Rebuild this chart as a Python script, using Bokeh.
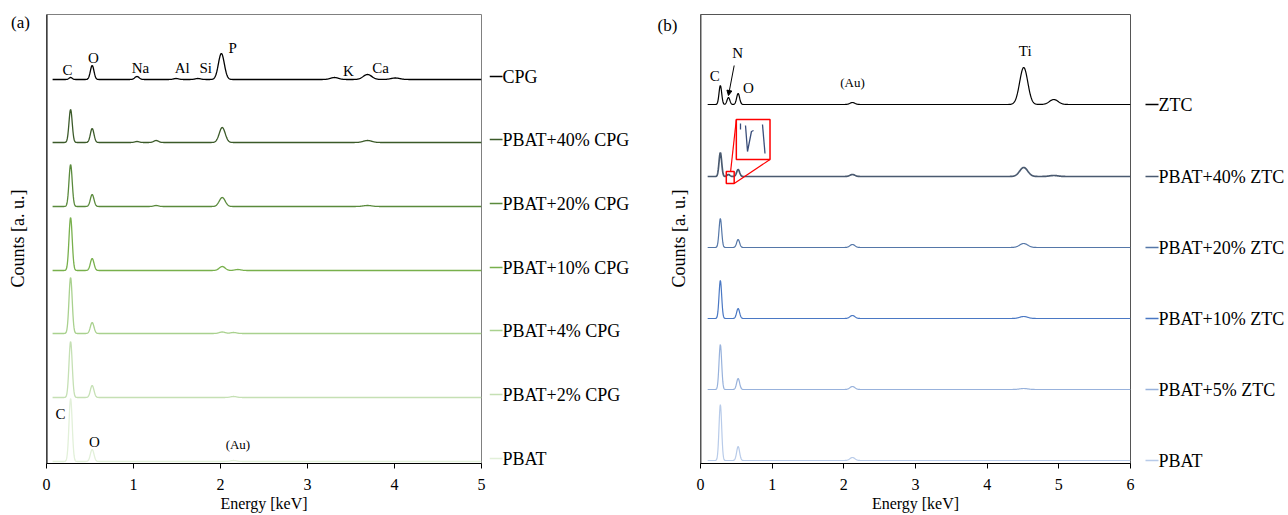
import numpy as np
from bokeh.plotting import figure
from bokeh.layouts import row
from bokeh.models import Range1d, Label, Arrow, NormalHead, BoxAnnotation, FixedTicker
from bokeh.embed import file_html
from bokeh.resources import INLINE

FONT = "Liberation Serif"
TOP, BOTTOM, FRAME_H = 14, 52, 449
EXTRA = 40  # side strips reach 40 px further down so their texts are not cut

# ---------------- Panel (a) data ----------------
a_names = ["CPG", "PBAT+40% CPG", "PBAT+20% CPG", "PBAT+10% CPG",
           "PBAT+4% CPG", "PBAT+2% CPG", "PBAT"]
a_colors = ["#000000", "#3b5a29", "#5a8a3c", "#78b04c", "#a9d18e", "#c5e0b4", "#e2f0d9"]
a_offsets = [384, 321, 257, 193, 130, 66, 2]
a_peak_energy = [
    [0.277, 0.525, 1.04, 1.49, 1.74, 2.01, 3.31, 3.69, 4.01],
    [0.277, 0.525, 1.04, 1.26, 2.02, 3.69],
    [0.277, 0.525, 1.26, 2.02, 3.69],
    [0.277, 0.525, 2.02, 2.20],
    [0.277, 0.525, 2.02, 2.15],
    [0.277, 0.525, 2.15],
    [0.277, 0.525, 2.15],
]
a_peak_height = [
    [2, 14, 3, 1, 1, 26, 2, 5, 1.5],
    [33, 14, 1, 2, 15, 2],
    [42, 12, 1, 9, 1],
    [53, 12, 4, 1],
    [56, 11, 1.5, 1],
    [56, 12, 1],
    [63, 12, 1],
]
a_elem_text = ["C", "O", "Na", "Al", "Si", "P", "K", "Ca"]
a_elem_x = [0.24, 0.54, 1.08, 1.56, 1.83, 2.14, 3.47, 3.84]
a_elem_y = [394, 406, 396, 396, 396, 416, 393, 396]
a_pbat_text = ["C", "O"]
a_pbat_x = [0.16, 0.55]
a_pbat_y = [50, 22]

# ---------------- Panel (b) data ----------------
b_names = ["ZTC", "PBAT+40% ZTC", "PBAT+20% ZTC", "PBAT+10% ZTC", "PBAT+5% ZTC", "PBAT"]
b_colors = ["#000000", "#4a5a70", "#5577a8", "#4a78c4", "#98b2dc", "#b8cbe9"]
b_offsets = [357, 285, 214, 143, 72, 1]
b_peak_energy = [
    [0.277, 0.39, 0.525, 2.12, 4.51, 4.93],
    [0.277, 0.39, 0.525, 2.12, 4.51, 4.93],
    [0.277, 0.525, 2.12, 4.51],
    [0.277, 0.525, 2.12, 4.51],
    [0.277, 0.525, 2.12, 4.51],
    [0.277, 0.525, 2.12],
]
b_peak_height = [
    [19, 7, 11, 2, 37, 5],
    [24, 2, 7, 2, 9, 1],
    [29, 8, 3, 4],
    [38, 10, 3, 2],
    [45, 11, 3, 1],
    [56, 14, 3],
]
b_elem_text = ["C", "N", "O", "Ti"]
b_elem_x = [0.20, 0.52, 0.67, 4.53]
b_elem_y = [386, 409, 374, 411]


def spectrum(e0, e1, energies, heights, offset):
    e = np.linspace(e0, e1, 1200)
    y = np.full_like(e, float(offset))
    for c, h in zip(energies, heights):
        s = 0.016 + 0.009 * c
        y += h * np.exp(-0.5 * ((e - c) / s) ** 2)
    return e, y


def make_fig(fw, xmax, y0, y1, outline):
    p = figure(frame_width=fw, frame_height=FRAME_H,
               min_border_left=6, min_border_right=8,
               min_border_top=TOP, min_border_bottom=BOTTOM,
               x_range=Range1d(0, xmax), y_range=Range1d(y0, y1),
               title_location=None,
               output_backend="svg", toolbar_location=None)
    p.xgrid.visible = False
    p.ygrid.visible = False
    p.outline_line_color = outline
    p.outline_line_width = 1
    p.xaxis.ticker = FixedTicker(ticks=list(range(0, xmax + 1)), minor_ticks=[])
    p.xaxis.major_tick_in = 0
    p.xaxis.major_tick_out = 5
    p.xaxis.minor_tick_line_color = None
    p.xaxis.major_label_standoff = 10
    p.xaxis.major_label_text_font = FONT
    p.xaxis.major_label_text_font_size = "16px"
    p.xaxis.major_label_text_color = "#000000"
    p.xaxis.axis_label = "Energy [keV]"
    p.xaxis.axis_label_text_font = FONT
    p.xaxis.axis_label_text_font_size = "16px"
    p.xaxis.axis_label_text_font_style = "normal"
    p.xaxis.axis_label_text_color = "#000000"
    p.xaxis.axis_label_standoff = 2
    p.xaxis.axis_line_color = "#000000"
    p.xaxis.major_tick_line_color = "#000000"
    p.yaxis.visible = False
    return p


def strip(width, y0, y1):
    s = figure(frame_width=width, frame_height=FRAME_H + EXTRA,
               min_border_left=0, min_border_right=0,
               min_border_top=TOP, min_border_bottom=BOTTOM - EXTRA,
               x_range=Range1d(0, width), y_range=Range1d(y0 - EXTRA, y1),
               title_location=None,
               output_backend="svg", toolbar_location=None)
    s.axis.visible = False
    s.grid.visible = False
    s.outline_line_color = None
    return s


def txt(p, x, y, t, size="16px", color="#000000", align="center", angle=0.0):
    p.add_layout(Label(x=x, y=y, text=t, text_font=FONT, text_font_size=size,
                       text_color=color, text_align=align, text_baseline="middle",
                       angle=angle))


# ---------------- Figure (a) ----------------
pa = make_fig(435, 5, 0, 449, "#808080")
pa.segment(x0=[0], y0=[0], x1=[0], y1=[449], line_color="#000000", line_width=2)
for name, col, off, pe, ph in zip(a_names, a_colors, a_offsets, a_peak_energy, a_peak_height):
    e, y = spectrum(0.07, 5.0, pe, ph, off)
    pa.line(e, y, line_color=col, line_width=1.3)
for t, x, y in zip(a_elem_text, a_elem_x, a_elem_y):
    txt(pa, x, y, t, size="15px")
for t, x, y in zip(a_pbat_text, a_pbat_x, a_pbat_y):
    txt(pa, x, y, t, size="15px")
txt(pa, 2.2, 19, "(Au)", size="13px")

# left strip: y in pixels measured from the bottom of the 515 px page
la = strip(40, BOTTOM, BOTTOM + FRAME_H)
txt(la, 20, 515 - 22, "(a)", size="17px")
txt(la, 17, 515 - 238, "Counts [a. u.]", size="18px", angle=np.pi / 2)

ra = strip(161, 0, 449)
for name, col, off in zip(a_names, a_colors, a_offsets):
    ra.line([0, 13], [off + 3, off + 3], line_color=col, line_width=1.3)
    txt(ra, 13, off + 3, name, size="18px", align="left")

# ---------------- Figure (b) ----------------
pb = make_fig(430, 6, -2, 447, "#555555")
pb.segment(x0=[0], y0=[-2], x1=[0], y1=[447], line_color="#555555", line_width=2)
for name, col, off, pe, ph in zip(b_names, b_colors, b_offsets, b_peak_energy, b_peak_height):
    e, y = spectrum(0.10, 6.0, pe, ph, off)
    lw = 1.7 if name == "PBAT+40% ZTC" else 1.2
    pb.line(e, y, line_color=col, line_width=lw)
for t, x, y in zip(b_elem_text, b_elem_x, b_elem_y):
    txt(pb, x, y, t, size="15px")
txt(pb, 2.12, 379, "(Au)", size="13px")
pb.add_layout(Arrow(end=NormalHead(size=5, fill_color="black", line_color="black"),
                    x_start=0.47, y_start=396, x_end=0.39, y_end=366,
                    line_color="black", line_width=1))

# red zoom inset (decoration)
pb.add_layout(BoxAnnotation(left=0.36, right=0.47, bottom=278, top=290,
                            fill_alpha=0, line_color="#ff0000", line_alpha=1,
                            line_width=1.5))
pb.add_layout(BoxAnnotation(left=0.50, right=0.97, bottom=302, top=342,
                            fill_alpha=0, line_color="#ff0000", line_alpha=1,
                            line_width=1.5))
pb.line([0.42, 0.50], [290, 342], line_color="#ff0000", line_width=1.2)
pb.line([0.47, 0.97], [278, 302], line_color="#ff0000", line_width=1.2)
pb.line([0.558, 0.558], [338, 332], line_color="#3a4e7a", line_width=1.3)
pb.line([0.628, 0.656, 0.711, 0.740], [336, 310, 330, 331], line_color="#3a4e7a", line_width=1.3)
pb.line([0.865, 0.900], [337, 308], line_color="#3a4e7a", line_width=1.3)

lb = strip(44, BOTTOM, BOTTOM + FRAME_H)
txt(lb, 17, 515 - 25, "(b)", size="17px")
txt(lb, 28, 515 - 238, "Counts [a. u.]", size="18px", angle=np.pi / 2)

rb = strip(150, -2, 447)
for name, col, off in zip(b_names, b_colors, b_offsets):
    rb.line([7, 20], [off, off], line_color=col, line_width=1.3)
    txt(rb, 20, off, name, size="18px", align="left")

layout = row(la, pa, ra, lb, pb, rb)
open("out.html", "w").write(file_html(layout, INLINE))
